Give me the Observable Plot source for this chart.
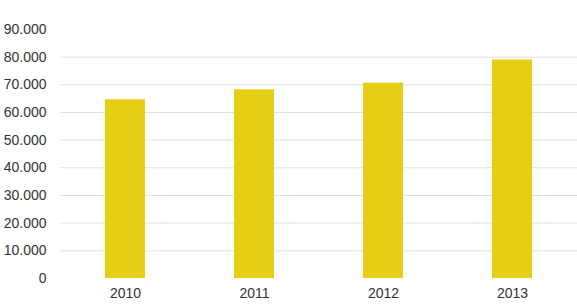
<!DOCTYPE html>
<html>
<head>
<meta charset="utf-8">
<script src="https://cdn.jsdelivr.net/npm/d3@7"></script>
<script src="https://cdn.jsdelivr.net/npm/@observablehq/plot@0.6"></script>
<style>
  html, body { margin: 0; padding: 0; background: #fff; }
  #chart svg { display: block; }
</style>
</head>
<body>
<div id="chart"></div>
<script>
// Yearly totals
const years = ["2010", "2011", "2012", "2013"];
const totals = [64600, 68200, 70600, 79000];
const yTicks = [0, 10000, 20000, 30000, 40000, 50000, 60000, 70000, 80000, 90000];
const gridLines = [10000, 20000, 30000, 40000, 50000, 60000, 70000, 80000];

const data = years.map((year, i) => ({year, total: totals[i]}));

// German-style thousands separator: 90.000
const de = d3.formatLocale({decimal: ",", thousands: ".", grouping: [3], currency: ["", " €"]});
const fmt = de.format(",d");

const chart = Plot.plot({
  width: 577,
  height: 307,
  marginTop: 29,
  marginBottom: 29,
  marginLeft: 60,
  marginRight: 0,
  style: {fontFamily: "'Liberation Sans', Arial, sans-serif", fontSize: "14px", color: "#333", background: "#fff"},
  x: {domain: years, paddingInner: 0.69, paddingOuter: 0.345},
  y: {domain: [0, 90000]},
  marks: [
    Plot.ruleY(gridLines, {stroke: "#e2e2e2", strokeWidth: 1, strokeOpacity: 1}),
    Plot.barY(data, {x: "year", y: "total", fill: "#e5cf16"}),
    Plot.axisY({ticks: yTicks, tickFormat: fmt, tickSize: 0, tickPadding: 14, label: null, fill: "#333"}),
    Plot.axisX({tickSize: 0, tickPadding: 10, label: null, fill: "#333"})
  ]
});

document.getElementById("chart").appendChild(chart);
</script>
</body>
</html>
